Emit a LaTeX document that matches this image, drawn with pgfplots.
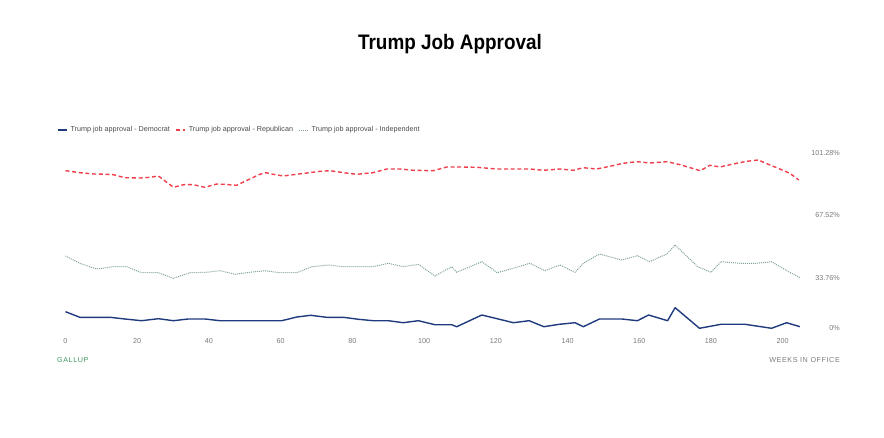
\documentclass[border=0pt]{standalone}
\usepackage{pgfplots}
\pgfplotsset{compat=1.18}
\usepackage{fontspec}
\setmainfont{Liberation Sans}
\newfontfamily\titlefont[FakeStretch=0.9]{Liberation Sans}
\definecolor{demc}{HTML}{1F3B7D}
\definecolor{repc}{HTML}{EE3F4B}
\definecolor{indc}{HTML}{7FA395}
\definecolor{tickc}{HTML}{7A7A7A}
\definecolor{legc}{HTML}{4A4A4A}
\definecolor{galc}{HTML}{3E9A62}
\begin{document}
\begin{tikzpicture}
\path[use as bounding box] (0,0) rectangle (884pt,437pt);
\node[font=\titlefont\bfseries\fontsize{21}{24}\selectfont, anchor=center] at (450pt,392.5pt) {Trump Job Approval};
\node[font=\addfontfeature{LetterSpace=8}\fontsize{7.2}{8}\selectfont, text=galc, anchor=west, inner sep=0pt] at (57pt,77pt) {GALLUP};
\node[font=\addfontfeature{LetterSpace=8}\fontsize{7.2}{8}\selectfont, text=tickc, anchor=east, inner sep=0pt] at (840pt,77pt) {WEEKS IN OFFICE};
\begin{axis}[
  at={(65.5pt,96.8pt)}, anchor=south west,
  scale only axis, width=734.4pt, height=187.5pt,
  xmin=0, xmax=204.8, ymin=0, ymax=101.28,
  clip=false,
  axis line style={draw=none},
  tick style={draw=none},
  xtick={0,20,40,60,80,100,120,140,160,180,200},
  xticklabel style={font=\fontsize{7.2}{8}\selectfont, text=tickc, inner sep=0pt, yshift=1.8pt},
  ytick={33.76,67.52,101.28},
  yticklabels={33.76\%,67.52\%,101.28\%},
  yticklabel pos=right,
  yticklabel style={font=\fontsize{7.2}{8}\selectfont, text=tickc, anchor=east, inner sep=0pt, xshift=40pt},
  extra y ticks={0},
  extra y tick labels={0\%},
  extra y tick style={yticklabel style={yshift=12.5pt}},
  /pgf/number format/assume math mode=true,
  legend columns=3,
  legend style={at={(-0.0116,1.121)}, anchor=west, draw=none, fill=none, inner sep=0pt,
    font=\fontsize{7.2}{8}\selectfont, text=legc,
    nodes={inner sep=1pt}},
  legend image code/.code={\draw[#1] (0pt,0pt) -- (9pt,0pt);},
  /tikz/every odd column/.append style={column sep=2pt},
  /tikz/every even column/.append style={column sep=4.5pt},
]
\addplot[demc, line width=1.4pt, line join=round] coordinates {
(0,15.39)(4,12.37)(7.8,12.37)(12.4,12.37)(16.6,11.45)(21.2,10.53)(25.9,11.61)(30.1,10.53)(34.2,11.45)(38.9,11.45)(43.1,10.53)(47.3,10.53)(51.5,10.53)(55.6,10.53)(60.3,10.53)(64.5,12.53)(68.4,13.45)(72.8,12.37)(77.5,12.37)(81.7,11.29)(85.8,10.53)(90.0,10.53)(94.2,9.45)(98.4,10.53)(103.0,8.37)(107.7,8.37)(109.1,7.29)(116.1,13.61)(120.7,11.45)(124.9,9.45)(129.3,10.53)(133.4,7.29)(137.7,8.59)(142.1,9.45)(144.4,7.29)(148.9,11.45)(155.1,11.45)(159.5,10.53)(162.6,13.61)(167.9,10.53)(170.0,17.56)(176.8,6.43)(182.8,8.59)(189.5,8.59)(196.9,6.43)(201.1,9.45)(204.8,7.29)
};
\addlegendentry{Trump job approval - Democrat}
\addplot[repc, line width=1.4pt, dash pattern=on 4pt off 2.7pt] coordinates {
(0,91.56)(4,90.48)(7.8,89.78)(11.5,89.61)(13.3,89.40)(16.6,87.78)(20.8,87.61)(23.6,87.99)(25.9,88.69)(30.1,82.59)(32.9,84.0)(35.6,84.0)(38.9,82.59)(42.2,84.37)(44.0,84.21)(47.7,83.67)(51.0,86.70)(54.2,89.61)(55.9,90.48)(57.9,89.61)(60.7,88.69)(63.5,89.40)(67.3,90.31)(71.0,91.23)(73.8,91.56)(77.5,90.48)(81.2,89.61)(85.8,90.48)(89.6,92.48)(93.3,92.48)(97.0,91.77)(102.6,91.56)(106.3,93.56)(110.0,93.56)(114.7,93.40)(120.2,92.48)(126.7,92.48)(129.5,92.48)(133.2,91.77)(137.9,92.48)(141.6,91.77)(144.4,93.18)(148.1,92.48)(151.8,93.93)(155.5,95.55)(159.3,96.42)(163.0,95.72)(167.7,96.42)(171.4,94.80)(177.0,91.56)(179.7,94.47)(182.5,93.56)(186.2,95.18)(190.0,96.63)(193.2,97.34)(196.0,95.01)(199.2,92.48)(202.0,90.15)(204.5,86.53)
};
\addlegendentry{Trump job approval - Republican}
\addplot[indc, line width=1pt, dash pattern=on 1pt off 1pt] coordinates {
(0,45.48)(4,41.54)(8.7,38.46)(13.3,39.70)(17.1,39.70)(21.2,36.46)(25.9,36.46)(30.1,33.44)(34.7,36.46)(39.4,36.68)(43.1,37.54)(47.3,35.60)(51.5,36.68)(55.6,37.54)(59.8,36.46)(64.5,36.46)(68.7,39.70)(73.3,40.62)(77.5,39.70)(81.7,39.70)(85.8,39.70)(90.0,41.54)(94.2,39.70)(98.4,41.0)(103.0,34.68)(107.7,39.70)(109.1,36.68)(116.1,42.40)(120.4,36.46)(124.9,38.84)(129.5,41.54)(133.7,37.54)(137.9,40.62)(142.1,36.68)(144.4,41.54)(148.9,46.56)(155.1,43.32)(159.5,45.64)(162.8,42.40)(167.7,46.56)(170.0,51.42)(176.3,39.70)(180.0,36.68)(182.8,42.40)(188.1,41.54)(192.7,41.54)(196.9,42.40)(201.1,37.54)(204.8,33.76)
};
\addlegendentry{Trump job approval - Independent}
\end{axis}
\end{tikzpicture}
\end{document}
